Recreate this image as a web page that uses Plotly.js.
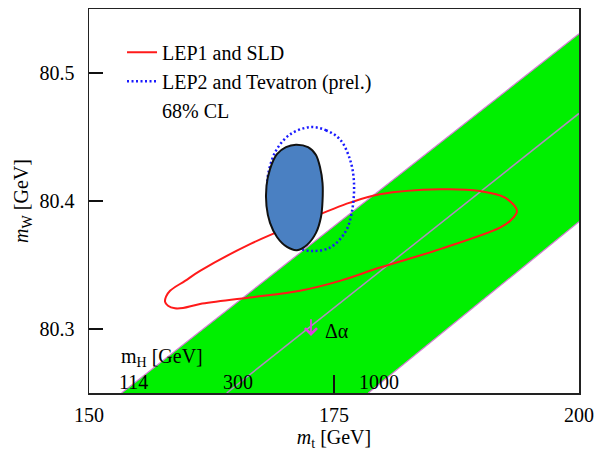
<!DOCTYPE html>
<html>
<head>
<meta charset="utf-8">
<script src="https://cdn.plot.ly/plotly-3.0.1.min.js"></script>
<style>html,body{margin:0;padding:0;background:#fff;}#chart{width:595px;height:456px;}</style>
</head>
<body>
<div id="chart"></div>
<script>
// ---- Data ----
// SM band edges for mH = 114, 300, 1000 GeV (mt, mW)
const edge114_mt = [153.33, 200];
const edge114_mW = [80.25, 80.5307];
const edge300_mt = [164.05, 200];
const edge300_mW = [80.25, 80.4684];
const edge1000_mt = [178.50, 200];
const edge1000_mW = [80.25, 80.3838];

// LEP1 and SLD 68% CL contour
const lep1_mt = [157.76, 157.86, 158.27, 159.80, 161.33, 166.43, 171.53, 176.63, 179.69, 185.82, 189.90, 192.45, 193.67, 192.96, 191.94, 185.82, 179.69, 175.61, 171.53, 166.43, 161.33, 159.59, 158.78, 158.06, 157.76];
const lep1_mW = [80.3213, 80.3252, 80.3299, 80.3376, 80.3454, 80.3663, 80.3831, 80.3987, 80.4052, 80.4091, 80.4078, 80.4026, 80.3922, 80.3844, 80.3792, 80.3624, 80.3480, 80.3376, 80.3299, 80.3246, 80.3195, 80.3164, 80.3162, 80.3182, 80.3213];

// LEP2 and Tevatron (prel.) 68% CL contour
const lep2_mt = [172.55, 174.18, 175.61, 176.63, 177.04, 176.81, 176.12, 174.59, 172.72, 171.02, 169.49, 168.47, 168.19, 168.47, 169.15, 170.51, 172.55];
const lep2_mW = [80.4577, 80.4553, 80.4481, 80.4325, 80.4143, 80.3909, 80.3753, 80.3636, 80.3610, 80.3641, 80.3727, 80.3883, 80.4143, 80.4273, 80.4403, 80.4520, 80.4577];

// Combined (filled) contour
const comb_mt = [171.12, 172.35, 173.16, 173.57, 173.83, 173.83, 173.67, 173.16, 172.24, 171.22, 170.20, 169.18, 168.47, 168.11, 168.11, 168.47, 169.18, 170.10, 171.12];
const comb_mW = [80.4440, 80.4421, 80.4359, 80.4265, 80.4140, 80.4000, 80.3875, 80.3751, 80.3657, 80.3616, 80.3641, 80.3719, 80.3829, 80.3961, 80.4117, 80.4249, 80.4366, 80.4421, 80.4440];

// Labels
const mHLabels = ["114", "300", "1000"];
const mHLabel_mt = [154.5, 165.2, 179.56];
const mHLabel_mW = 80.2585;
const xTicks = [150, 175, 200];
const yTicks = [80.3, 80.4, 80.5];
const yTickText = ["80.3", "80.4", "80.5"];

const FONT = "Liberation Serif, Times New Roman, serif";
const FS = 20;

const bandX = edge114_mt.concat(edge1000_mt.slice().reverse());
const bandY = edge114_mW.concat(edge1000_mW.slice().reverse());

const traces = [
  {x: bandX, y: bandY, mode: "lines", fill: "toself", fillcolor: "#00f000",
   line: {width: 0}, showlegend: false, hoverinfo: "skip"},
  {x: edge114_mt, y: edge114_mW, mode: "lines", line: {color: "#d77ad7", width: 1.2}, showlegend: false},
  {x: edge1000_mt, y: edge1000_mW, mode: "lines", line: {color: "#d77ad7", width: 1.2}, showlegend: false},
  {x: edge300_mt, y: edge300_mW, mode: "lines", line: {color: "#b08ac0", width: 1.5}, showlegend: false},
  {x: lep1_mt, y: lep1_mW, mode: "lines", name: "LEP1 and SLD",
   line: {color: "#ff1a1a", width: 2, shape: "spline", smoothing: 1}},
  {x: lep2_mt, y: lep2_mW, mode: "lines", name: "LEP2 and Tevatron (prel.)",
   line: {color: "#1a1aff", width: 2.5, dash: "2px,2.5px", shape: "spline", smoothing: 1}},
  {x: [null], y: [null], mode: "lines", name: "68% CL",
   line: {color: "rgba(0,0,0,0)", width: 0}},
  {x: comb_mt, y: comb_mW, mode: "lines", fill: "toself", fillcolor: "#4a80c2",
   line: {color: "#111111", width: 2, shape: "spline", smoothing: 0.8}, showlegend: false}
];

const annotations = [];
for (let i = 0; i < mHLabels.length; i++) {
  annotations.push({x: mHLabel_mt[i], y: mHLabel_mW, xref: "x", yref: "y", text: mHLabels[i],
    showarrow: false, font: {family: FONT, size: FS, color: "#000"}, xanchor: "center", yanchor: "middle"});
}
annotations.push({x: 157.45, y: 80.2775, xref: "x", yref: "y", text: "m<sub>H</sub> [GeV]",
  showarrow: false, font: {family: FONT, size: FS, color: "#000"}, xanchor: "center", yanchor: "middle"});
annotations.push({x: 172.65, y: 80.2945, ax: 172.65, ay: 80.3088, xref: "x", yref: "y", axref: "x", ayref: "y",
  text: "", showarrow: true, arrowhead: 4, arrowsize: 1.3, arrowwidth: 1.8, arrowcolor: "#e040e0"});
annotations.push({x: 175.3, y: 80.2985, xref: "x", yref: "y", text: "\u0394\u03b1",
  showarrow: false, font: {family: FONT, size: FS, color: "#000"}, xanchor: "center", yanchor: "middle"});

const layout = {
  width: 595, height: 456,
  margin: {l: 89, r: 16, t: 9, b: 63},
  paper_bgcolor: "#ffffff", plot_bgcolor: "#ffffff",
  font: {family: FONT, size: FS, color: "#000"},
  xaxis: {range: [150, 200], tickvals: xTicks, ticks: "inside", ticklen: 18, tickwidth: 1.5, tickcolor: "#111",
    showline: true, linecolor: "#222", linewidth: 1.5, mirror: true, showgrid: false, zeroline: false,
    tickfont: {family: FONT, size: FS}, ticklabelstandoff: 3,
    title: {text: "<i>m</i><sub>t</sub> [GeV]", font: {family: FONT, size: FS}, standoff: 5}},
  yaxis: {range: [80.25, 80.55], tickvals: yTicks, ticktext: yTickText, ticks: "inside", ticklen: 14, tickwidth: 1.5, tickcolor: "#111",
    showline: true, linecolor: "#222", linewidth: 1.5, mirror: true, showgrid: false, zeroline: false,
    tickfont: {family: FONT, size: FS}, ticklabelstandoff: 9,
    title: {text: "<i>m</i><sub>W</sub> [GeV]", font: {family: FONT, size: FS}, standoff: 5}},
  showlegend: true,
  legend: {x: 0.0674, y: 0.938, xanchor: "left", yanchor: "top", bgcolor: "rgba(0,0,0,0)",
    font: {family: FONT, size: FS}, tracegroupgap: 0, itemwidth: 30},
  annotations: annotations
};

Plotly.newPlot("chart", traces, layout, {staticPlot: true, displayModeBar: false});
</script>
</body>
</html>
